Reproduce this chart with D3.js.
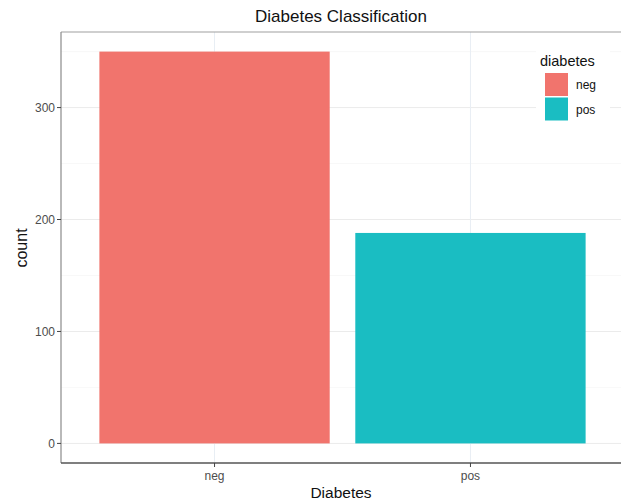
<!DOCTYPE html>
<html><head><meta charset="utf-8">
<script src="https://cdn.jsdelivr.net/npm/d3@7"></script>
<style>body{margin:0;background:#fff}svg{display:block;font-family:"Liberation Sans",Arial,sans-serif}</style>
</head><body>
<svg id="c" width="621" height="502"></svg>
<script>
const categories = ["neg", "pos"];
const counts = [350, 188];
const colors = ["#F1746D", "#1ABDC2"];
const yTicks = [0, 100, 200, 300];
const yMinor = [50, 150, 250, 350];

const svg = d3.select("#c");
const L = 61, T = 32, R = 624, B = 463;
const y = d3.scaleLinear().domain([-17.5, 367.5]).range([B, T]);
// ggplot discrete scale: 0.6-unit expansion each side, bar width 0.9 unit
const x = d3.scalePoint().domain(categories).range([L, R]).padding(0.6);
const cx = d => x(d);
const bw = x.step() * 0.9;

svg.append("rect").attr("x", L).attr("y", T).attr("width", R - L).attr("height", B - T).attr("fill", "#fff");
const g = svg.append("g");
yMinor.forEach(v => g.append("line").attr("x1", L).attr("x2", R).attr("y1", y(v)).attr("y2", y(v)).attr("stroke", "#f4f4f4").attr("stroke-width", 0.6));
yTicks.forEach(v => g.append("line").attr("x1", L).attr("x2", R).attr("y1", y(v)).attr("y2", y(v)).attr("stroke", "#ebebeb").attr("stroke-width", 1));
categories.forEach(c => g.append("line").attr("x1", cx(c)).attr("x2", cx(c)).attr("y1", T).attr("y2", B).attr("stroke", "#e8eef4").attr("stroke-width", 1));

svg.selectAll("rect.bar").data(categories).enter().append("rect").attr("class", "bar")
  .attr("x", d => cx(d) - bw / 2).attr("width", bw)
  .attr("y", (d, i) => y(counts[i])).attr("height", (d, i) => y(0) - y(counts[i]))
  .attr("fill", (d, i) => colors[i]);

svg.append("line").attr("x1", L).attr("x2", R).attr("y1", T).attr("y2", T).attr("stroke", "#a0a0a0").attr("stroke-width", 1.2);
svg.append("line").attr("x1", L).attr("x2", L).attr("y1", T).attr("y2", B).attr("stroke", "#8a8a8a").attr("stroke-width", 1.2);
svg.append("line").attr("x1", L).attr("x2", R).attr("y1", B).attr("y2", B).attr("stroke", "#555").attr("stroke-width", 1.3);

yTicks.forEach(v => {
  svg.append("line").attr("x1", L - 4).attr("x2", L).attr("y1", y(v)).attr("y2", y(v)).attr("stroke", "#444").attr("stroke-width", 1);
  svg.append("text").attr("x", L - 6).attr("y", y(v)).attr("dy", "0.35em").attr("text-anchor", "end")
    .attr("font-size", 12).attr("fill", "#4d4d4d").text(v);
});
categories.forEach(c => {
  svg.append("line").attr("x1", cx(c)).attr("x2", cx(c)).attr("y1", B).attr("y2", B + 4).attr("stroke", "#444").attr("stroke-width", 1);
  svg.append("text").attr("x", cx(c)).attr("y", B + 17).attr("text-anchor", "middle")
    .attr("font-size", 12).attr("fill", "#4d4d4d").text(c);
});

svg.append("text").attr("x", 341).attr("y", 22).attr("text-anchor", "middle").attr("font-size", 17).attr("fill", "#111").text("Diabetes Classification");
svg.append("text").attr("x", 341).attr("y", 498).attr("text-anchor", "middle").attr("font-size", 15.5).attr("fill", "#111").text("Diabetes");
svg.append("text").attr("transform", "translate(27,248) rotate(-90)").attr("text-anchor", "middle").attr("font-size", 16).attr("fill", "#111").text("count");

const lg = svg.append("g");
lg.append("rect").attr("x", 536).attr("y", 46).attr("width", 74).attr("height", 80).attr("fill", "#fff");
lg.append("text").attr("x", 540).attr("y", 66).attr("font-size", 14.5).attr("fill", "#111").text("diabetes");
categories.forEach((c, i) => {
  lg.append("rect").attr("x", 545).attr("y", 73 + i * 24.5).attr("width", 23).attr("height", 23).attr("fill", colors[i]);
  lg.append("text").attr("x", 576).attr("y", 85 + i * 24.5).attr("dy", "0.35em").attr("font-size", 12).attr("fill", "#111").text(c);
});
</script>
</body></html>
